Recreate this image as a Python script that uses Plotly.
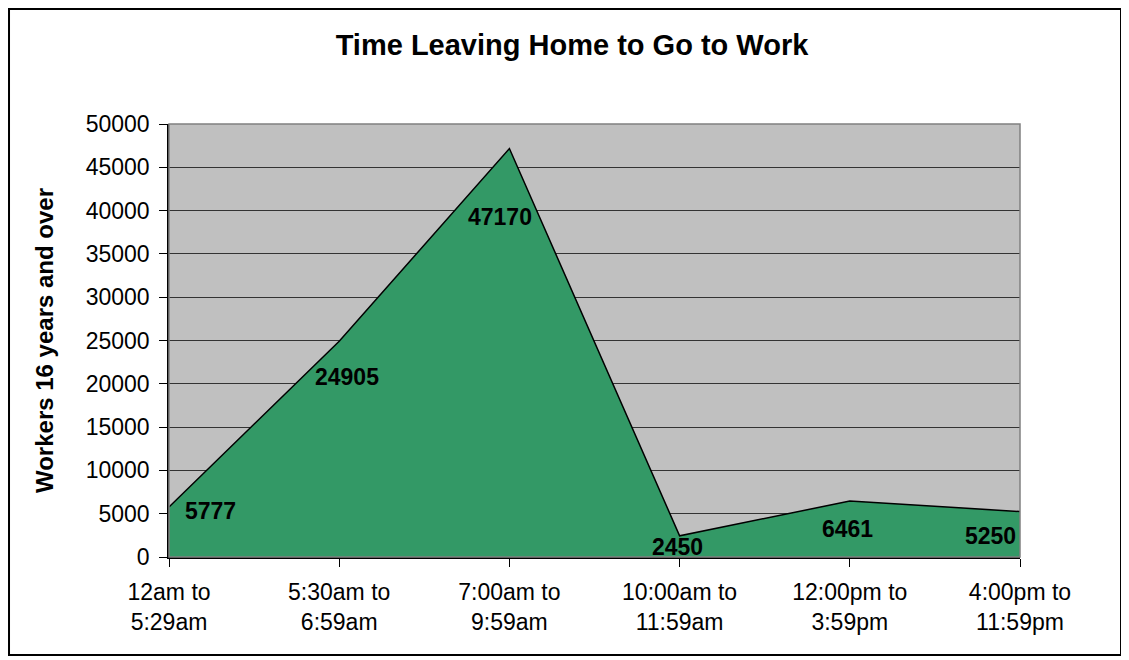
import plotly.graph_objects as go

# data
periods = ["12am to<br>5:29am", "5:30am to<br>6:59am", "7:00am to<br>9:59am",
           "10:00am to<br>11:59am", "12:00pm to<br>3:59pm", "4:00pm to<br>11:59pm"]
workers = [5777, 24905, 47170, 2450, 6461, 5250]

# label nudges (px) to mimic the spreadsheet placement
label_dx = [41, 8, -9, -2, -2, -30]
label_dy = [-4, -36, -68, -11, -28, -24]

font = "Liberation Sans, Arial, sans-serif"

fig = go.Figure()
fig.add_trace(go.Scatter(
    x=periods, y=workers,
    mode="lines",
    fill="tozeroy",
    fillcolor="#339966",
    line=dict(color="black", width=1.5),
    hoverinfo="x+y",
    showlegend=False,
))

for p, v, dx, dy in zip(periods, workers, label_dx, label_dy):
    fig.add_annotation(x=p, y=v, text="<b>%d</b>" % v, showarrow=False,
                       xshift=dx, yshift=dy, font=dict(size=23, color="black", family=font))

# outer chart frame and plot-area border
fig.add_shape(type="rect", xref="paper", yref="paper",
              x0=-0.1880, x1=1.1187, y0=-0.2263, y1=1.2656,
              line=dict(color="black", width=2), layer="below")
fig.add_shape(type="rect", xref="paper", yref="paper", x0=0, x1=1, y0=0, y1=1,
              line=dict(color="#808080", width=1.5))

# page body has an 8px margin, so the figure is sized to fit inside it
fig.update_layout(
    width=1121, height=652,
    margin=dict(l=161, r=109, t=116, b=103),
    paper_bgcolor="white",
    plot_bgcolor="#C0C0C0",
    font=dict(family=font, size=23, color="black"),
    title=dict(text="<b>Time Leaving Home to Go to Work</b>", x=564 / 1121, xanchor="center",
               y=1 - 37 / 652, yanchor="middle", font=dict(size=29, family=font)),
    xaxis=dict(type="category", range=[0, 5], showgrid=False, showline=True,
               linecolor="black", linewidth=1.5, ticks="outside", ticklen=8,
               tickcolor="black", tickfont=dict(size=23), zeroline=False,
               ticklabelstandoff=6),
    yaxis=dict(range=[0, 50000], dtick=5000, showgrid=True, gridcolor="#333333",
               gridwidth=1, showline=True, linecolor="black", linewidth=1.5,
               ticks="outside", ticklen=8, tickcolor="black", tickformat="d",
               tickfont=dict(size=23), zeroline=False, ticklabelstandoff=5,
               title=dict(text="<b>Workers 16 years and over</b>", font=dict(size=24), standoff=25)),
)

fig.write_html("out.html")
